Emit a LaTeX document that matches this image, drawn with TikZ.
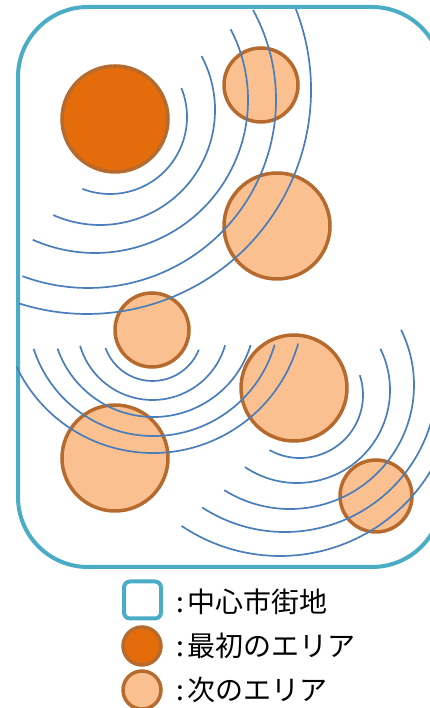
\documentclass[tikz,border=0pt]{standalone}
\usepackage{fontspec}
\newfontfamily\jpfont{Noto Sans CJK JP}
\definecolor{citycol}{RGB}{75,172,198}
\definecolor{firstcol}{RGB}{228,108,10}
\definecolor{nextcol}{RGB}{250,192,144}
\definecolor{rimcol}{RGB}{182,106,45}
\definecolor{wavecol}{RGB}{74,126,187}

\begin{document}
\begin{tikzpicture}[x=1pt, y=1pt,
	cityframe/.style={draw=citycol, line width=4pt, rounded corners=70pt},
	area/.style={circle, draw=rimcol, line width=3.5pt, inner sep=0pt},
	firstarea/.style={area, fill=firstcol},
	nextarea/.style={area, fill=nextcol},
	wave/.style={draw=wavecol, line width=1.7pt},
	keytext/.style={anchor=west, inner sep=0pt, font=\jpfont\fontsize{28}{28}\selectfont}]
	\useasboundingbox (0,0) rectangle (430,708);
	\clip (0,0) rectangle (430,708);
	% city centre
	\draw[cityframe] (18,141) rectangle (442,701);
	% areas
	\node[firstarea, minimum size=106pt] (first) at (115,589) {};
	\node[nextarea, minimum size=74pt] (nextA) at (261,623) {};
	\node[nextarea, minimum size=106pt] (nextB) at (277,482) {};
	\node[nextarea, minimum size=74pt] (nextC) at (152,378) {};
	\node[nextarea, minimum size=106pt] (nextD) at (294,320) {};
	\node[nextarea, minimum size=106pt] (nextE) at (115,250) {};
	\node[nextarea, minimum size=72pt] (nextF) at (376,212) {};
	% waves: centre x / centre y / radius / start / end
	\foreach \cx/\cy/\r/\a/\b in {
		110/591/77/22/-111, 100/598/115/28/-114, 95/608/153/27.5/-114,
		88/608/188/28.6/-110.4, 87/618/224/21.2/-107.6,
		152.5/377/50/-22/-160, 152.5/383.5/75.5/-16/-163.5, 153.5/392.5/101.5/-17/-161,
		153.5/398/126/-16/-162, 153/406/151/-16/-154.6,
		300/313/63/-119/18.4, 297/318/93/-124/26.3, 290/323/124/-122/26.4,
		285/328/152/-123/0, 280/328/176/-124/-20}
		{\draw[wave] ([shift={(\a:\r)}]\cx,\cy) arc[start angle=\a, end angle=\b, radius=\r];}
	% legend
	\node[draw=citycol, line width=4pt, rounded corners=6pt, minimum size=37pt, inner sep=0pt] (keycity) at (142.5,108) {};
	\node[firstarea, minimum size=38pt] (keyfirst) at (142,62) {};
	\node[nextarea, minimum size=38pt] (keynext) at (142,18) {};
	\node[keytext] (labcity) at (176,106) {:\hspace{4pt}中心市街地};
	\node[keytext] (labfirst) at (176,62) {:\hspace{4pt}最初のエリア};
	\node[keytext] (labnext) at (176,18) {:\hspace{4pt}次のエリア};
\end{tikzpicture}
\end{document}
